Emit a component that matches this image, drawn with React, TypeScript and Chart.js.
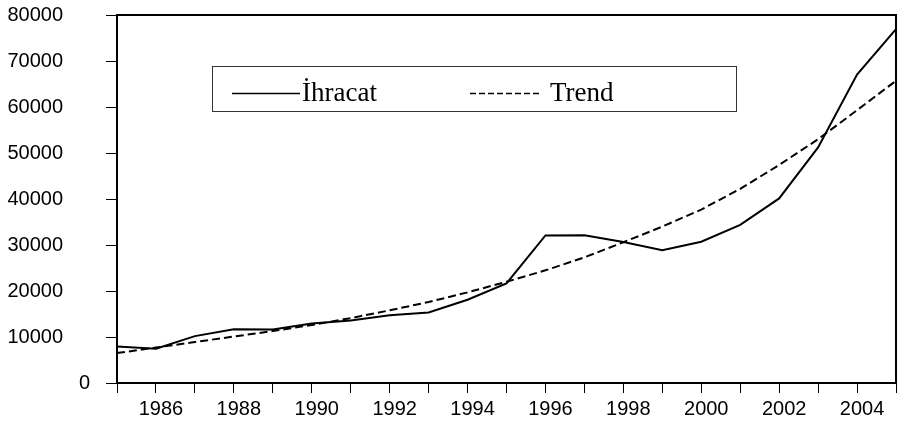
import React, { useEffect, useRef } from "react";
import { Chart, registerables } from "chart.js";

Chart.register(...registerables);

const years = [
  "1985", "1986", "1987", "1988", "1989", "1990", "1991", "1992", "1993", "1994",
  "1995", "1996", "1997", "1998", "1999", "2000", "2001", "2002", "2003", "2004", "2005",
];
const ihracat = [
  7958, 7457, 10190, 11662, 11625, 12959, 13593, 14715, 15345, 18106,
  21637, 32067, 32110, 30662, 28842, 30721, 34373, 40124, 51206, 67047, 76949,
];
const trend = [
  6500, 7700, 8900, 10100, 11300, 12600, 14100, 15800, 17600, 19700,
  22000, 24500, 27300, 30600, 34000, 37700, 42200, 47400, 53000, 59300, 65700,
];
const legendLabels = ["İhracat", "Trend"];
const axisFont = '"Liberation Sans", Arial, sans-serif';

const frameAndLegend = {
  id: "frameAndLegend",
  afterDraw(chart: any) {
    const { ctx, chartArea } = chart;
    const yScale = chart.scales.y;
    ctx.save();
    // top and right frame
    ctx.strokeStyle = "#000";
    ctx.lineWidth = 2;
    ctx.beginPath();
    ctx.moveTo(chartArea.left, chartArea.top);
    ctx.lineTo(chartArea.right, chartArea.top);
    ctx.lineTo(chartArea.right, chartArea.bottom);
    ctx.stroke();

    // zero label, placed closer to the axis as in the original
    ctx.fillStyle = "#000";
    ctx.font = "20px " + axisFont;
    ctx.textAlign = "right";
    ctx.textBaseline = "middle";
    ctx.fillText("0", chartArea.left - 27, yScale.getPixelForValue(0));

    // legend box
    ctx.lineWidth = 1;
    ctx.strokeStyle = "#333";
    ctx.strokeRect(212.5, 66.5, 524, 45);

    ctx.strokeStyle = "#000";
    ctx.lineWidth = 1.5;
    ctx.beginPath();
    ctx.moveTo(232, 93.5);
    ctx.lineTo(300, 93.5);
    ctx.stroke();

    ctx.setLineDash([6, 3]);
    ctx.beginPath();
    ctx.moveTo(470, 93.5);
    ctx.lineTo(539, 93.5);
    ctx.stroke();
    ctx.setLineDash([]);

    ctx.fillStyle = "#000";
    ctx.font = '27px "Liberation Serif", "Times New Roman", serif';
    ctx.textBaseline = "alphabetic";
    ctx.textAlign = "left";
    ctx.fillText(legendLabels[0], 302, 101);
    ctx.fillText(legendLabels[1], 550, 101);
    ctx.restore();
  },
};

export default function App() {
  const ref = useRef<HTMLCanvasElement | null>(null);
  useEffect(() => {
    if (!ref.current) return;
    const chart = new Chart(ref.current, {
      type: "line",
      data: {
        labels: years,
        datasets: [
          {
            label: legendLabels[0],
            data: ihracat,
            borderColor: "#000",
            borderWidth: 2,
            pointRadius: 0,
            tension: 0,
            fill: false,
          },
          {
            label: legendLabels[1],
            data: trend,
            borderColor: "#000",
            borderWidth: 2,
            borderDash: [8, 4],
            pointRadius: 0,
            tension: 0,
            fill: false,
          },
        ],
      },
      options: {
        animation: false,
        responsive: true,
        maintainAspectRatio: false,
        layout: { padding: { left: 0, top: 15, right: 10, bottom: 0 } },
        plugins: {
          legend: { display: false },
          tooltip: { enabled: false },
        },
        scales: {
          x: {
            offset: false,
            afterFit(scale: any) {
              scale.height = 38;
              scale.paddingLeft = 0;
              scale.paddingRight = 0;
            },
            border: { display: true, color: "#000", width: 2 },
            grid: {
              drawOnChartArea: false,
              drawTicks: true,
              tickLength: 10,
              color: "#000",
              lineWidth: 1,
            },
            ticks: {
              autoSkip: false,
              maxRotation: 0,
              minRotation: 0,
              color: "#000",
              padding: 4,
              labelOffset: 5,
              font: { family: axisFont, size: 20 },
              callback(value: any, index: number) {
                const y = Number(years[index]);
                return y % 2 === 0 ? years[index] : "";
              },
            },
          },
          y: {
            min: 0,
            max: 80000,
            afterFit(scale: any) {
              scale.width = 117;
              scale.paddingTop = 0;
              scale.paddingBottom = 0;
            },
            border: { display: true, color: "#000", width: 2 },
            grid: {
              drawOnChartArea: false,
              drawTicks: true,
              tickLength: 11,
              color: "#000",
              lineWidth: 1,
            },
            ticks: {
              stepSize: 10000,
              color: "#000",
              padding: 43,
              font: { family: axisFont, size: 20 },
              callback(value: any) {
                return value === 0 ? "" : String(value);
              },
            },
          },
        },
      },
      plugins: [frameAndLegend],
    });
    return () => chart.destroy();
  }, []);

  return (
    <div style={{ position: "fixed", left: 0, top: 0, width: 906, height: 421, background: "#fff" }}>
      <canvas ref={ref} />
    </div>
  );
}
